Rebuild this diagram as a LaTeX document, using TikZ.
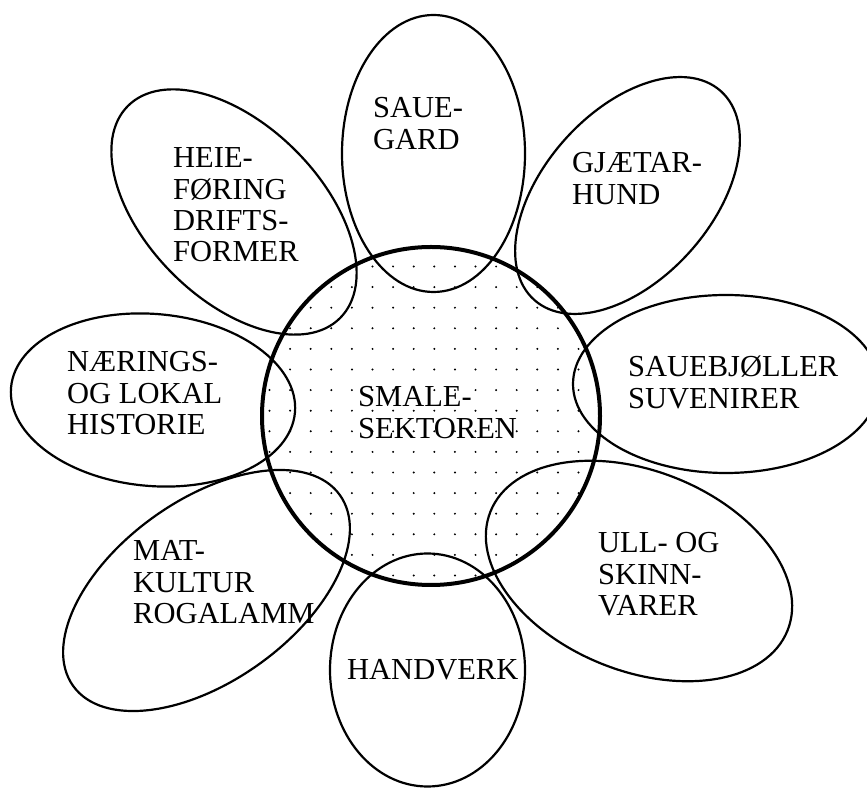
\documentclass[tikz,border=0pt]{standalone}
\usepackage{fontspec}
\setmainfont{Liberation Serif}
\usetikzlibrary{shapes.geometric}
\newcommand\petlines[1]{\begin{tabular}[t]{@{}l@{}}#1\end{tabular}}
\begin{document}
\begin{tikzpicture}[x=1pt,y=1pt,
  petal/.style={ellipse, draw, line width=2.2pt, inner sep=0pt},
  hubstyle/.style={circle, draw, line width=4pt, inner sep=0pt},
  lbl/.style={anchor=base west, inner sep=0pt, font=\fontsize{30.5}{31.3}\selectfont}]
\useasboundingbox (0,0) rectangle (867,787);
\clip (0,0) rectangle (867,787);
% dotted fill of the hub
\begin{scope}
  \clip (431,371) circle (168);
  \foreach \i in {-9,...,9}{\foreach \j in {-9,...,9}{
    \fill ({434.3+20.6*\i},{376.3-20.6*\j}) circle (1.1);}}
\end{scope}
% petals
\node[petal, minimum width=183pt, minimum height=277pt] (p1) at (433.5,633.5) {};
\node[petal, minimum width=300pt, minimum height=174pt, rotate=-45] (p2) at (234,575) {};
\node[petal, minimum width=280pt, minimum height=168pt, rotate=48.2] (p3) at (627.5,591.5) {};
\node[petal, minimum width=306pt, minimum height=178pt] (p4) at (726,403) {};
\node[petal, minimum width=320pt, minimum height=200pt, rotate=-21.8] (p5) at (639,216) {};
\node[petal, minimum width=195pt, minimum height=233pt] (p6) at (427.5,117) {};
\node[petal, minimum width=328pt, minimum height=181pt, rotate=35.6] (p7) at (206.5,196.5) {};
\node[petal, minimum width=285pt, minimum height=172pt, rotate=-5] (p8) at (153,387) {};
% hub
\node[hubstyle, minimum size=338pt] (hub) at (431,371) {};
% labels
\node[lbl] (t1) at (373,669) {\petlines{SAUE-\\GARD}};
\node[lbl] (t2) at (173,619) {\petlines{HEIE-\\FØRING\\DRIFTS-\\FORMER}};
\node[lbl] (t3) at (572,614) {\petlines{GJÆTAR-\\HUND}};
\node[lbl] (t4) at (628,410) {\petlines{SAUEBJØLLER\\SUVENIRER}};
\node[lbl] (t5) at (598,234) {\petlines{ULL- OG\\SKINN-\\VARER}};
\node[lbl] (t6) at (347,107) {HANDVERK};
\node[lbl] (t7) at (133,226) {\petlines{MAT-\\KULTUR\\ROGALAMM}};
\node[lbl] (t8) at (67,415) {\petlines{NÆRINGS-\\OG LOKAL\\HISTORIE}};
\node[lbl] (t0) at (358,380) {\petlines{SMALE-\\SEKTOREN}};
\end{tikzpicture}
\end{document}
